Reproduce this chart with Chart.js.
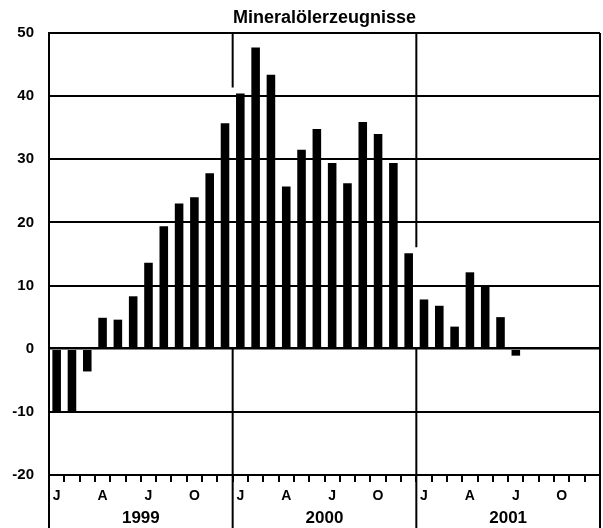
<!DOCTYPE html>
<html>
<head>
<meta charset="utf-8">
<script src="https://cdn.jsdelivr.net/npm/chart.js@4/dist/chart.umd.min.js"></script>
<style>
  html, body { margin: 0; padding: 0; background: #fff; }
  #wrap { width: 603px; height: 528px; }
</style>
</head>
<body>
<div id="wrap"><canvas id="myChart" width="603" height="528"></canvas></div>
<script>
// Mineralölerzeugnisse, Veränderung gegenüber Vorjahr in %
const title = "Mineralölerzeugnisse";
const monthLetters = ["J", "F", "M", "A", "M", "J", "J", "A", "S", "O", "N", "D"];
const years = ["1999", "2000", "2001"];
const values = [
  -9.9, -9.9, -3.6, 4.9, 4.6, 8.3, 13.6, 19.4, 23.0, 24.0, 27.8, 35.7,
  40.4, 47.7, 43.4, 25.7, 31.5, 34.8, 29.4, 26.2, 35.9, 34.0, 29.4, 15.1,
  7.8, 6.8, 3.5, 12.1, 10.0, 5.0, -1.1
];
const yTicks = [-20, -10, 0, 10, 20, 30, 40, 50];

const labels = [];
years.forEach((y) => monthLetters.forEach((m) => labels.push(m + " " + y)));

const FONT = "'Liberation Sans', Arial, sans-serif";

// title, frame extensions, year separators and year labels
const framePlugin = {
  id: "framePlugin",
  afterDraw(chart) {
    const ctx = chart.ctx;
    const area = chart.chartArea;
    const x = chart.scales.x;
    const y = chart.scales.y;
    const H = chart.height;
    ctx.save();
    ctx.fillStyle = "#000";
    ctx.strokeStyle = "#000";

    ctx.font = "bold 18px " + FONT;
    ctx.textAlign = "center";
    ctx.textBaseline = "middle";
    ctx.fillText(title, (area.left + area.right) / 2, 18);

    ctx.lineWidth = 2;
    ctx.beginPath();
    ctx.moveTo(area.right, area.top);
    ctx.lineTo(area.right, H);
    ctx.moveTo(area.left, area.bottom);
    ctx.lineTo(area.left, H);
    ctx.stroke();

    for (let k = 1; k < years.length; k++) {
      const i = k * 12;
      const xs = (x.getPixelForValue(i - 1) + x.getPixelForValue(i)) / 2;
      const hi = Math.max(values[i - 1] ?? 0, values[i] ?? 0);
      ctx.beginPath();
      ctx.moveTo(xs, area.top);
      ctx.lineTo(xs, y.getPixelForValue(hi) - 6);
      ctx.moveTo(xs, y.getPixelForValue(0));
      ctx.lineTo(xs, H);
      ctx.stroke();
    }

    ctx.font = "bold 17px " + FONT;
    years.forEach((yr, k) => {
      const xm = (x.getPixelForValue(k * 12) + x.getPixelForValue(k * 12 + 11)) / 2;
      ctx.fillText(yr, xm, 518);
    });
    ctx.restore();
  }
};

document.addEventListener("DOMContentLoaded", function () {
  const ctx = document.getElementById("myChart");
  new Chart(ctx, {
    type: "bar",
    data: {
      labels: labels,
      datasets: [
        {
          data: values,
          backgroundColor: "#000",
          borderWidth: 0,
          barPercentage: 0.56,
          categoryPercentage: 1.0,
        },
      ],
    },
    options: {
      responsive: false,
      animation: false,
      layout: { padding: { top: 33, right: 3, left: 0, bottom: 0 } },
      plugins: {
        legend: { display: false },
        tooltip: { enabled: false },
      },
      scales: {
        x: {
          offset: true,
          grid: {
            offset: true,
            drawOnChartArea: false,
            drawTicks: true,
            tickLength: 7,
            color: "#000",
            lineWidth: 2,
          },
          border: { color: "#000", width: 2 },
          ticks: {
            autoSkip: false,
            maxRotation: 0,
            padding: 6,
            color: "#000",
            font: { family: FONT, size: 14, weight: "bold" },
            callback: (val, i) => (i % 3 === 0 ? monthLetters[i % 12] : ""),
          },
          afterFit: (scale) => { scale.height = 53; },
        },
        y: {
          min: yTicks[0],
          max: yTicks[yTicks.length - 1],
          afterBuildTicks: (scale) => { scale.ticks = yTicks.map((v) => ({ value: v })); },
          grid: {
            color: "#000",
            lineWidth: (c) => (c.tick && c.tick.value === 0 ? 2.6 : 2),
            drawTicks: false,
          },
          border: { color: "#000", width: 2 },
          ticks: {
            padding: 15,
            color: "#000",
            font: { family: FONT, size: 15, weight: "bold" },
          },
          afterFit: (scale) => { scale.width = 49; },
        },
      },
    },
    plugins: [framePlugin],
  });
});
</script>
</body>
</html>
